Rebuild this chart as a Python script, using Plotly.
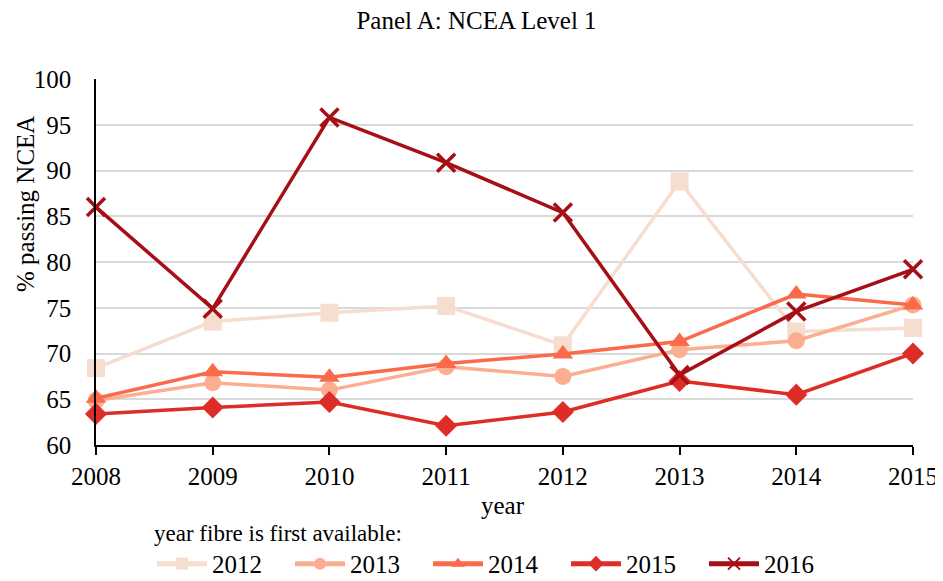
import plotly.graph_objects as go

years = [2008, 2009, 2010, 2011, 2012, 2013, 2014, 2015]
s2012 = [68.4, 73.5, 74.45, 75.2, 70.9, 88.8, 72.4, 72.8]
s2013 = [64.85, 66.8, 66.0, 68.55, 67.5, 70.4, 71.4, 75.3]
s2014 = [65.1, 68.0, 67.4, 68.9, 69.95, 71.3, 76.5, 75.3]
s2015 = [63.4, 64.1, 64.7, 62.1, 63.6, 67.0, 65.5, 70.0]
s2016 = [86.0, 74.9, 95.8, 90.85, 85.4, 67.65, 74.6, 79.2]

series_names = ["2012", "2013", "2014", "2015", "2016"]
series_vals = [s2012, s2013, s2014, s2015, s2016]
colors = ["#F5DDD0", "#FCAE91", "#FB6A4A", "#DE2D26", "#A50F15"]
symbols = ["square", "circle", "triangle-up", "diamond", "x-thin"]
sizes = [18, 17, 18, 17, 18]

FONT = "Liberation Serif"

fig = go.Figure()
for name, vals, c, sym, sz in zip(series_names, series_vals, colors, symbols, sizes):
    marker = dict(symbol=sym, size=sz, color=c)
    if sym == "x-thin":
        marker["line"] = dict(color=c, width=3.5)
    else:
        marker["line"] = dict(width=0)
    fig.add_trace(go.Scatter(
        x=years, y=vals, name=name, mode="lines+markers",
        line=dict(color=c, width=3.5), marker=marker, cliponaxis=False,
    ))

# page body has an 8px margin: work in window pixels and convert
OFF = 8
W, H = 943 - OFF, 581 - OFF
PL, PR, PT, PB = 96, 913, 79, 445          # plot area in window pixels
L, R, T, B = PL - OFF, (943 - PR), PT - OFF, (581 - PB)
pw = PR - PL
ph = PB - PT

def px_x(x):
    return (x - PL) / pw

def px_y(y):
    return (PB - y) / ph

fig.update_layout(
    width=W, height=H,
    margin=dict(l=L, r=R, t=T, b=B, autoexpand=False),
    paper_bgcolor="white", plot_bgcolor="white",
    font=dict(family=FONT, size=25, color="#000000"),
    title=dict(text="Panel A: NCEA Level 1", x=(476.5 - OFF) / W, xref="container",
               xanchor="center", y=1 - (20 - OFF) / H, yref="container", yanchor="middle",
               font=dict(family=FONT, size=25, color="#000000")),
    showlegend=True,
    legend=dict(orientation="h", x=(152 - OFF) / W, xref="container", xanchor="left",
                y=1 - (511 - OFF) / H, yref="container", yanchor="top",
                title=dict(text="year fibre is first available:", side="top",
                           font=dict(family=FONT, size=23)),
                font=dict(family=FONT, size=25), itemsizing="constant",
                itemwidth=50, entrywidth=73, entrywidthmode="pixels",
                tracegroupgap=0, bgcolor="rgba(0,0,0,0)"),
    xaxis=dict(range=[2008, 2015], dtick=1, tick0=2008, showgrid=False, zeroline=False,
               showline=True, linecolor="#000000", linewidth=1.5, automargin=False,
               ticks="outside", ticklen=8, tickwidth=1.5, tickcolor="#000000",
               tickfont=dict(family=FONT, size=25), ticklabelstandoff=0),
    xaxis2=dict(range=[2008, 2015], dtick=1, tick0=2008, matches="x", overlaying="x",
                anchor="y", side="bottom", showgrid=False, zeroline=False, showline=False,
                ticks="inside", ticklen=8, tickwidth=1.5, tickcolor="#000000",
                showticklabels=False, automargin=False),
    yaxis=dict(range=[60, 100], dtick=5, tick0=60, showgrid=True, gridcolor="#D9D9D9",
               gridwidth=1.5, zeroline=False, showline=True, linecolor="#000000",
               linewidth=1.5, ticks="", tickfont=dict(family=FONT, size=25),
               ticklabelstandoff=18, automargin=False),
    annotations=[
        dict(text="% passing NCEA", x=px_x(25), y=px_y(204),
             xref="paper", yref="paper", textangle=-90, showarrow=False,
             xanchor="center", yanchor="middle", font=dict(family=FONT, size=25)),
        dict(text="year", x=px_x(503), y=px_y(505),
             xref="paper", yref="paper", showarrow=False,
             xanchor="center", yanchor="middle", font=dict(family=FONT, size=25)),
    ],
)

fig.write_html("out.html")
